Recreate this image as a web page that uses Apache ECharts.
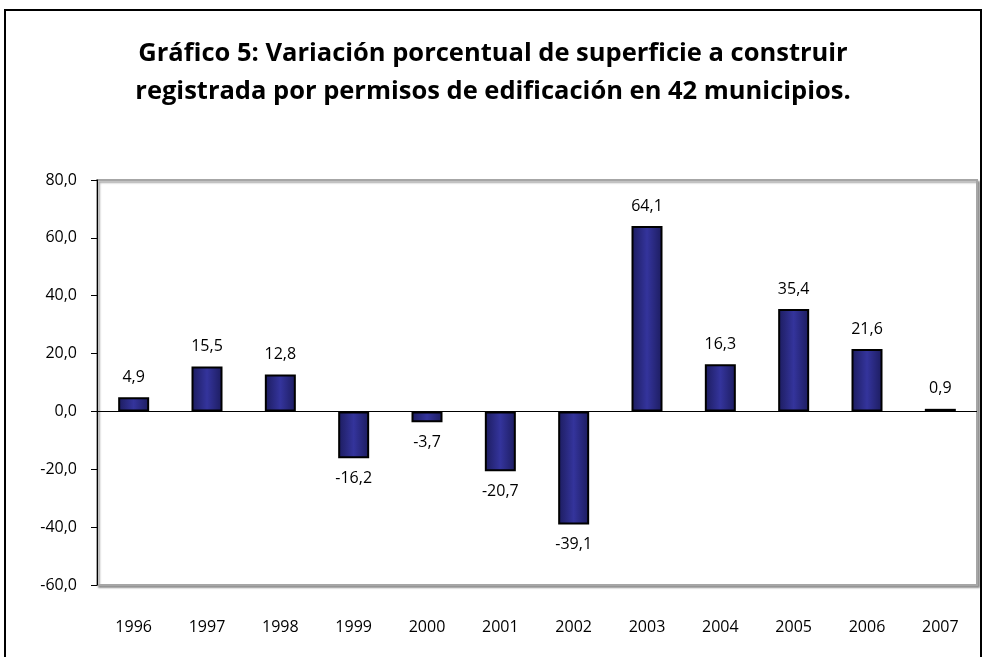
<!DOCTYPE html>
<html><head><meta charset="utf-8">
<script src="https://cdn.jsdelivr.net/npm/echarts@6/dist/echarts.min.js"></script>
<style>html,body{margin:0;padding:0;background:#fff}#c{width:986px;height:657px}
#frame{position:absolute;left:4px;top:9px;width:978px;height:660px;border:2px solid #000;box-sizing:border-box;pointer-events:none}</style>
</head><body><div id="c"></div><div id="frame"></div>
<script>
const years = ['1996','1997','1998','1999','2000','2001','2002','2003','2004','2005','2006','2007'];
const values = [4.9, 15.5, 12.8, -16.2, -3.7, -20.7, -39.1, 64.1, 16.3, 35.4, 21.6, 0.9];
const titleLines = ['Gráfico 5: Variación porcentual de superficie a construir', 'registrada por permisos de edificación en 42 municipios.'];
const yMin = -60, yMax = 80, yStep = 20;
const fmt = v => v.toFixed(1).replace('.', ',');
const font = 'Open Sans';
const chart = echarts.init(document.getElementById('c'));
chart.setOption({
  animation: false,
  title: {
    text: titleLines.join('\n'), left: 'center', top: 30,
    textStyle: {fontFamily: font, fontWeight: 'bold', fontSize: 25.5, color: '#000', lineHeight: 38}
  },
  grid: {left: 97, right: 9, top: 180, bottom: 72, show: true, borderColor: '#a6a6a6', borderWidth: 2,
    shadowColor: 'rgba(0,0,0,0.35)', shadowOffsetX: 2, shadowOffsetY: 2, shadowBlur: 2, backgroundColor: '#fff'},
  xAxis: {
    type: 'category', data: years, position: 'bottom',
    axisLine: {show: false}, axisTick: {show: false},
    axisLabel: {fontFamily: font, fontSize: 16, color: '#000', margin: 34}
  },
  yAxis: {
    type: 'value', min: yMin, max: yMax, interval: yStep,
    axisLine: {show: true, onZero: false, lineStyle: {color: '#000', width: 1}},
    axisTick: {show: true, length: 6, lineStyle: {color: '#000'}},
    splitLine: {show: false},
    axisLabel: {fontFamily: font, fontSize: 16, color: '#000', margin: 20, formatter: v => fmt(v)}
  },
  series: [{
    type: 'bar', barWidth: 31,
    data: values.map(v => v < 0 ? {value: v, label: {position: 'bottom'}} : v),
    itemStyle: {
      color: new echarts.graphic.LinearGradient(0, 0, 1, 0, [
        {offset: 0, color: '#1c1c5e'}, {offset: 0.5, color: '#34349c'}, {offset: 1, color: '#1c1c5e'}]),
      borderColor: '#000', borderWidth: 2
    },
    label: {
      show: true, fontFamily: font, fontSize: 16, color: '#000', distance: 12,
      position: 'top',
      formatter: p => fmt(p.value)
    },
    markLine: {
      silent: true, symbol: 'none', label: {show: false},
      lineStyle: {color: '#000', width: 1, type: 'solid'},
      data: [{yAxis: 0}]
    }
  }]
});
</script></body></html>
